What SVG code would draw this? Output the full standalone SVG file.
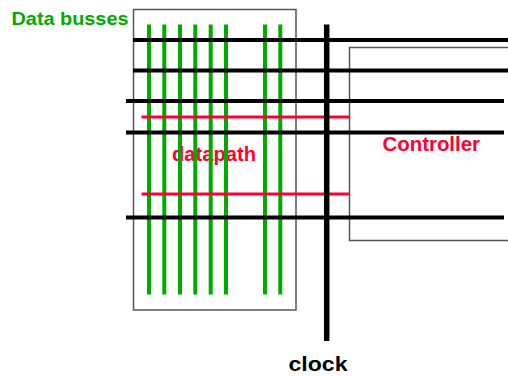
<svg xmlns="http://www.w3.org/2000/svg" width="508" height="376" viewBox="0 0 508 376">
<style>
.box{fill:none;stroke:#555;stroke-width:1.5}
.bus{stroke:#00aa00;stroke-width:4}
.ctl{stroke:#ff0033;stroke-width:3}
.wire{stroke:#000;stroke-width:4}
.clk{stroke:#000;stroke-width:5.5}
.t{font-family:"Liberation Sans",Arial,sans-serif;font-weight:bold}
</style>
<rect width="508" height="376" fill="#fff"/>
<g id="datapath">
<rect class="box" x="133.5" y="9.5" width="162.5" height="300.5"/>
<text class="t" x="172" y="160.5" font-size="20" fill="#ff0033" textLength="84" lengthAdjust="spacingAndGlyphs">datapath</text>
</g>
<g id="controller">
<rect class="box" x="349.5" y="47.5" width="170" height="193"/>
<text class="t" x="382.5" y="150.5" font-size="20" fill="#ff0033" textLength="97.5" lengthAdjust="spacingAndGlyphs">Controller</text>
</g>
<g id="label-busses">
<text class="t" x="11.5" y="24.5" font-size="19" fill="#00aa00" textLength="117" lengthAdjust="spacingAndGlyphs">Data busses</text>
</g>
<g id="label-clock">
<text class="t" x="288.5" y="371" font-size="20.5" fill="#000" textLength="59" lengthAdjust="spacingAndGlyphs">clock</text>
</g>
<g id="connectors">
<line class="bus" x1="149" y1="24.5" x2="149" y2="294.5"/>
<line class="bus" x1="164.3" y1="24.5" x2="164.3" y2="294.5"/>
<line class="bus" x1="180" y1="24.5" x2="180" y2="294.5"/>
<line class="bus" x1="195.3" y1="24.5" x2="195.3" y2="294.5"/>
<line class="bus" x1="210.7" y1="24.5" x2="210.7" y2="294.5"/>
<line class="bus" x1="226" y1="24.5" x2="226" y2="294.5"/>
<line class="bus" x1="265" y1="24.5" x2="265" y2="294.5"/>
<line class="bus" x1="280.3" y1="24.5" x2="280.3" y2="294.5"/>
<line class="wire" x1="133" y1="40" x2="508" y2="40"/>
<line class="wire" x1="133" y1="70.5" x2="508" y2="70.5"/>
<line class="wire" x1="126" y1="101" x2="504" y2="101"/>
<line class="wire" x1="126" y1="132.5" x2="504" y2="132.5"/>
<line class="wire" x1="126" y1="217.5" x2="504" y2="217.5"/>
<line class="ctl" x1="141.5" y1="117" x2="349" y2="117"/>
<line class="ctl" x1="141.5" y1="194" x2="349" y2="194"/>
<line class="clk" x1="326.7" y1="24.5" x2="326.7" y2="341"/>
</g>
</svg>
